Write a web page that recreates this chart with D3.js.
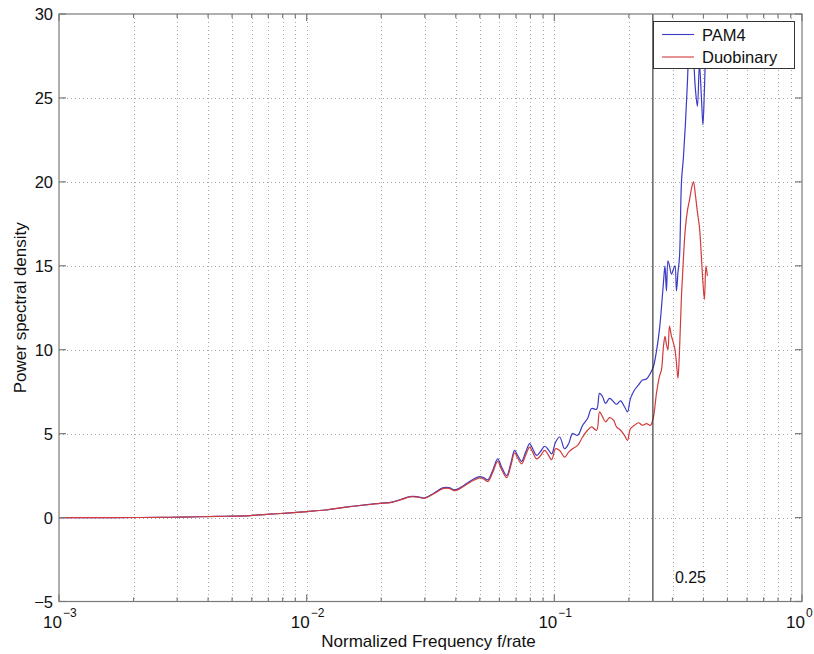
<!DOCTYPE html>
<html>
<head>
<meta charset="utf-8">
<script src="https://cdn.jsdelivr.net/npm/d3@7"></script>
<style>
  html, body { margin: 0; padding: 0; background: #fff; }
  svg { display: block; font-family: "Liberation Sans", Arial, Helvetica, sans-serif; }
</style>
</head>
<body>
<svg id="chart" width="814" height="654"></svg>
<script>
// Normalized frequency (f / symbol rate)
const freq = [0.001, 0.001467, 0.002127, 0.002811, 0.003714, 0.004685, 0.005906, 0.007112, 0.008567, 0.01003,
  0.01185, 0.0144, 0.01719, 0.01975, 0.02208, 0.02423, 0.0261, 0.02811, 0.02999, 0.03261,
  0.03545, 0.03748, 0.03963, 0.0419, 0.0443, 0.04728, 0.04999, 0.05188, 0.05383, 0.05637,
  0.05905, 0.06129, 0.06421, 0.06663, 0.06914, 0.07109, 0.07378, 0.0766, 0.0795, 0.08175,
  0.08484, 0.08805, 0.09138, 0.09397, 0.09752, 0.1012, 0.1051, 0.11, 0.1142, 0.1185,
  0.1242, 0.1301, 0.1362, 0.1414, 0.1481, 0.1523, 0.1566, 0.161, 0.1671, 0.1734,
  0.1783, 0.185, 0.192, 0.1974, 0.203, 0.2107, 0.2187, 0.2269, 0.2355, 0.2444,
  0.2513, 0.2584, 0.2657, 0.2707, 0.2758, 0.2797, 0.2836, 0.2876, 0.2916, 0.2972,
  0.3027, 0.307, 0.3113, 0.3156, 0.3201, 0.3261, 0.3322, 0.3384, 0.3448, 0.3512,
  0.3578, 0.3645, 0.3713, 0.3782, 0.3854, 0.3926, 0.3981, 0.4037, 0.4094, 0.415];

// Power spectral density, PAM4
const pam4 = [0, 0, 0.005, 0.02, 0.05, 0.08, 0.12, 0.2, 0.28, 0.36,
  0.45, 0.62, 0.76, 0.85, 0.92, 1.1, 1.25, 1.24, 1.17, 1.45,
  1.77, 1.78, 1.65, 1.8, 2.04, 2.3, 2.44, 2.38, 2.25, 2.8,
  3.5, 3.0, 2.5, 3.2, 4.0, 3.7, 3.35, 3.9, 4.4, 4.1,
  3.7, 3.95, 4.25, 4.1, 3.8, 4.5, 4.8, 4.1, 4.4, 5.0,
  4.9, 5.5, 5.9, 6.5, 6.45, 7.4, 7.2, 6.8, 7.1, 6.9,
  6.75, 6.95, 6.6, 6.3, 7.1, 7.6, 7.9, 8.2, 8.25, 8.6,
  9.0, 9.9, 11.2, 12.5, 14.0, 15.0, 13.5, 15.3, 15.0, 14.5,
  14.8, 15.0, 13.5, 14.6, 15.5, 20.0, 21.5, 23.5, 26.0, 28.5,
  29.0, 27.5, 25.5, 24.5, 27.0, 25.0, 23.4, 25.5, 28.0, 27.0];

// Power spectral density, Duobinary
const duobinary = [0, 0, 0.005, 0.02, 0.05, 0.08, 0.12, 0.2, 0.28, 0.36,
  0.45, 0.62, 0.75, 0.84, 0.91, 1.08, 1.23, 1.22, 1.15, 1.42,
  1.72, 1.74, 1.6, 1.75, 1.98, 2.22, 2.36, 2.3, 2.15, 2.68,
  3.35, 2.85, 2.38, 3.05, 3.85, 3.55, 3.2, 3.72, 4.2, 3.9,
  3.5, 3.7, 4.0, 3.8, 3.45, 4.1, 4.0, 3.6, 3.9, 4.1,
  4.3, 4.8, 5.2, 5.4, 5.2, 6.3, 6.0, 5.7, 5.95, 5.8,
  5.4, 5.2, 4.9, 4.6, 5.3, 5.5, 5.65, 5.5, 5.6, 5.5,
  6.0, 7.4, 8.4, 8.8, 10.2, 10.8, 10.3, 10.0, 11.4, 10.8,
  10.4, 10.0, 9.2, 8.3, 9.9, 13.2, 15.5, 17.3, 18.3, 18.9,
  19.6, 20.0, 19.2, 18.2, 17.3, 15.5, 14.0, 13.0, 15.0, 14.4];

const seriesNames = ["PAM4", "Duobinary"];
const seriesColors = ["#3a3ac4", "#d23b3b"];

const yTicks = [-5, 0, 5, 10, 15, 20, 25, 30];
const yTickLabels = ["\u22125", "0", "5", "10", "15", "20", "25", "30"];
const xDecades = [1e-3, 1e-2, 1e-1, 1];
const xExponents = ["\u22123", "\u22122", "\u22121", "0"];
const markerFreq = 0.25;
const markerLabel = "0.25";

const xLabel = "Normalized Frequency f/rate";
const yLabel = "Power spectral density";

const svg = d3.select("#chart");
const L = 59, R = 802, T = 14, B = 601.5;

const x = d3.scaleLog().domain([1e-3, 1]).range([L, R]);
const y = d3.scaleLinear().domain([-5, 30]).range([B, T]);

// minor (2..9) and major decade positions
const xMinor = [];
for (let k = -3; k < 0; k++) {
  for (let m = 2; m <= 9; m++) xMinor.push(m * Math.pow(10, k));
}

const grid = svg.append("g").attr("stroke", "#a8a8a8").attr("stroke-width", 1)
  .attr("stroke-dasharray", "1,3").attr("fill", "none");
grid.selectAll("line.gx").data(xMinor.concat(xDecades.slice(1, -1))).join("line")
  .attr("x1", d => Math.round(x(d)) + 0.5).attr("x2", d => Math.round(x(d)) + 0.5)
  .attr("y1", T).attr("y2", B);
grid.selectAll("line.gy").data(yTicks.slice(1, -1)).join("line")
  .attr("y1", d => Math.round(y(d)) + 0.5).attr("y2", d => Math.round(y(d)) + 0.5)
  .attr("x1", L).attr("x2", R);

// curves, smoothed through the sampled points
const line = d3.line().x(d => x(d[0])).y(d => y(d[1]))
  .curve(d3.curveCatmullRom.alpha(0.5));
const series = [pam4, duobinary];
svg.append("g").attr("fill", "none").attr("stroke-width", 1.2)
  .selectAll("path").data(series).join("path")
  .attr("stroke", (d, i) => seriesColors[i])
  .attr("stroke-linejoin", "round")
  .attr("d", vals => line(freq.map((f, i) => [f, vals[i]])));

// vertical marker at f/rate = 0.25
svg.append("line")
  .attr("x1", x(markerFreq)).attr("x2", x(markerFreq))
  .attr("y1", T).attr("y2", B)
  .attr("stroke", "#2a2a2a").attr("stroke-width", 1.1);
svg.append("text")
  .attr("x", x(markerFreq) + 22).attr("y", 583)
  .attr("font-size", 16).attr("fill", "#111")
  .text(markerLabel);

// axes box and inward ticks
const axis = svg.append("g").attr("stroke", "#7a7a7a").attr("stroke-width", 1.2).attr("fill", "none");
axis.append("rect").attr("x", L).attr("y", T).attr("width", R - L).attr("height", B - T);
axis.selectAll("line.ty").data(yTicks).join("line")
  .attr("y1", d => y(d)).attr("y2", d => y(d)).attr("x1", L).attr("x2", L + 7);
axis.selectAll("line.ty2").data(yTicks).join("line")
  .attr("y1", d => y(d)).attr("y2", d => y(d)).attr("x1", R).attr("x2", R - 7);
axis.selectAll("line.txM").data(xDecades).join("line")
  .attr("x1", d => x(d)).attr("x2", d => x(d)).attr("y1", B).attr("y2", B - 7);
axis.selectAll("line.txM2").data(xDecades).join("line")
  .attr("x1", d => x(d)).attr("x2", d => x(d)).attr("y1", T).attr("y2", T + 7);
axis.selectAll("line.txm").data(xMinor).join("line")
  .attr("x1", d => x(d)).attr("x2", d => x(d)).attr("y1", B).attr("y2", B - 4);
axis.selectAll("line.txm2").data(xMinor).join("line")
  .attr("x1", d => x(d)).attr("x2", d => x(d)).attr("y1", T).attr("y2", T + 4);

// y tick labels
svg.append("g").selectAll("text").data(yTicks).join("text")
  .attr("x", L - 6).attr("y", d => y(d) + 6)
  .attr("text-anchor", "end").attr("font-size", 16.5).attr("fill", "#111")
  .text((d, i) => yTickLabels[i]);

// x tick labels: 10 with superscript exponent
const xt = svg.append("g").attr("fill", "#111");
xDecades.forEach((d, i) => {
  const px = x(d);
  xt.append("text").attr("x", px + 3).attr("y", 628)
    .attr("text-anchor", "end").attr("font-size", 17).text("10");
  xt.append("text").attr("x", px + 4).attr("y", 617)
    .attr("text-anchor", "start").attr("font-size", 12).text(xExponents[i]);
});

// axis titles
svg.append("text").attr("x", (L + R) / 2 - 2).attr("y", 647)
  .attr("text-anchor", "middle").attr("font-size", 17).attr("fill", "#111")
  .text(xLabel);
svg.append("text")
  .attr("transform", `translate(26, ${(T + B) / 2}) rotate(-90)`)
  .attr("text-anchor", "middle").attr("font-size", 17).attr("fill", "#111")
  .text(yLabel);

// legend
const lg = svg.append("g");
lg.append("rect").attr("x", 653.5).attr("y", 21.5).attr("width", 141).attr("height", 47)
  .attr("fill", "#fff").attr("stroke", "#333").attr("stroke-width", 1);
seriesNames.forEach((name, i) => {
  const cy = 34.5 + i * 22.5;
  lg.append("line").attr("x1", 662).attr("x2", 694).attr("y1", cy).attr("y2", cy)
    .attr("stroke", seriesColors[i]).attr("stroke-width", 1.1);
  lg.append("text").attr("x", 702).attr("y", cy + 6)
    .attr("font-size", 16.5).attr("fill", "#111").text(name);
});
</script>
</body>
</html>
